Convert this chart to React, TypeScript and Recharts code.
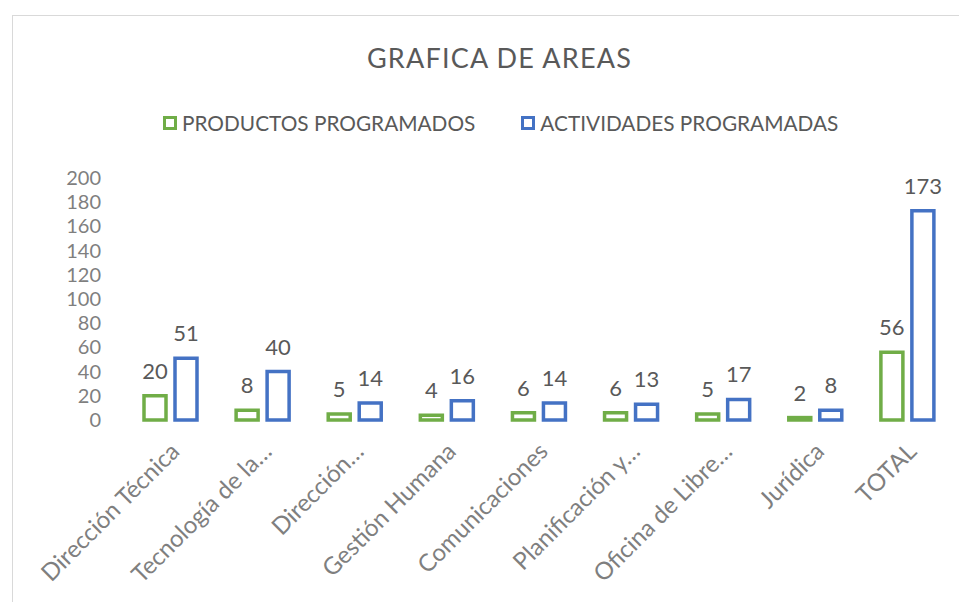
import { Bar, BarChart, LabelList, XAxis, YAxis } from "recharts";

const categories = [
  "Dirección Técnica",
  "Tecnología de la…",
  "Dirección…",
  "Gestión Humana",
  "Comunicaciones",
  "Planificación y…",
  "Oficina de Libre…",
  "Jurídica",
  "TOTAL",
];
const productos = [20, 8, 5, 4, 6, 6, 5, 2, 56];
const actividades = [51, 40, 14, 16, 14, 13, 17, 8, 173];
const yTicks = [0, 20, 40, 60, 80, 100, 120, 140, 160, 180, 200];

const GREEN = "#70ad47";
const BLUE = "#4472c4";
const FONT = "Lato, 'Open Sans', sans-serif";

const data = categories.map((name, i) => ({
  name,
  productos: productos[i],
  actividades: actividades[i],
}));

const XTick = ({ x, y, payload }: any) => (
  <g transform={`translate(${x + 5},${y + 19})`}>
    <text
      textAnchor="end"
      transform="rotate(-45)"
      dy="0.35em"
      fontSize={24}
      fill="#7f7f7f"
      fontFamily={FONT}
    >
      {payload.value}
    </text>
  </g>
);

const YTick = ({ y, payload }: any) => (
  <text
    x={101}
    y={y}
    textAnchor="end"
    dy="0.35em"
    fontSize={20}
    fill="#7f7f7f"
    fontFamily={FONT}
  >
    {payload.value}
  </text>
);

const LegendBox = ({ color, label }: { color: string; label: string }) => (
  <span style={{ display: "inline-flex", alignItems: "center", marginRight: 46 }}>
    <span
      style={{
        width: 8,
        height: 8,
        border: `3px solid ${color}`,
        marginRight: 5,
        display: "inline-block",
      }}
    />
    <span>{label}</span>
  </span>
);

export default function App() {
  return (
    <div
      style={{
        position: "relative",
        width: 967,
        height: 610,
        margin: -8,
        background: "#fff",
        overflow: "hidden",
        fontFamily: FONT,
      }}
    >
      <div
        style={{
          position: "absolute",
          left: 12,
          top: 15,
          width: 1000,
          height: 700,
          border: "1px solid #d9d9d9",
        }}
      />
      <div
        style={{
          position: "absolute",
          top: 41,
          left: 0,
          width: 999,
          textAlign: "center",
          fontSize: 27,
          color: "#595959",
          letterSpacing: 1.2,
        }}
      >
        GRAFICA DE AREAS
      </div>
      <div
        style={{
          position: "absolute",
          top: 110,
          left: 163,
          fontSize: 20.8,
          color: "#595959",
          whiteSpace: "nowrap",
          display: "flex",
        }}
      >
        <LegendBox color={GREEN} label="PRODUCTOS PROGRAMADOS" />
        <LegendBox color={BLUE} label="ACTIVIDADES PROGRAMADAS" />
      </div>
      <div style={{ position: "absolute", left: 0, top: 0 }}>
        <BarChart
          width={967}
          height={610}
          data={data}
          margin={{ top: 178, right: 14, bottom: 90, left: 44 }}
          barGap={9}
          barSize={22}
        >
          <XAxis
            dataKey="name"
            axisLine={false}
            tickLine={false}
            interval={0}
            height={100}
            tick={<XTick />}
          />
          <YAxis
            domain={[0, 200]}
            ticks={yTicks}
            axisLine={false}
            tickLine={false}
            width={80}
            tick={<YTick />}
          />
          <Bar
            dataKey="productos"
            fill="#fff"
            stroke={GREEN}
            strokeWidth={3.5}
            isAnimationActive={false}
          >
            <LabelList
              dataKey="productos"
              position="top"
              offset={17}
              fontSize={22}
              fill="#595959"
              fontFamily={FONT}
            />
          </Bar>
          <Bar
            dataKey="actividades"
            fill="#fff"
            stroke={BLUE}
            strokeWidth={3.5}
            isAnimationActive={false}
          >
            <LabelList
              dataKey="actividades"
              position="top"
              offset={17}
              fontSize={22}
              fill="#595959"
              fontFamily={FONT}
            />
          </Bar>
        </BarChart>
      </div>
    </div>
  );
}
